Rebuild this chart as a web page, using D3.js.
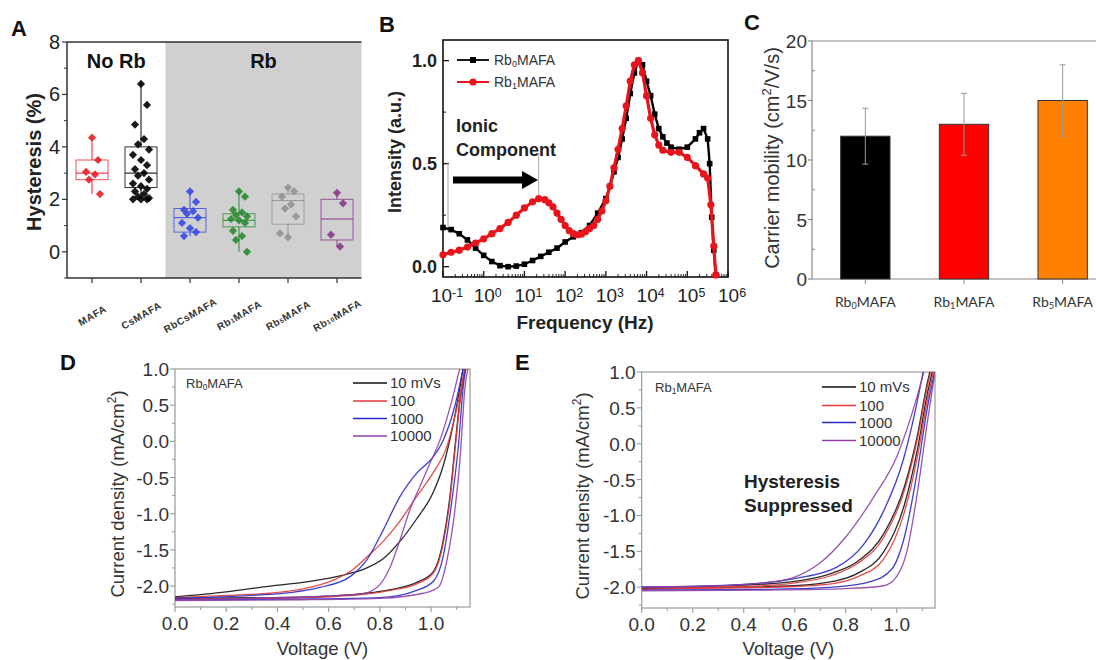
<!DOCTYPE html>
<html><head><meta charset="utf-8">
<script src="https://cdn.jsdelivr.net/npm/d3@7"></script>
<style>body{margin:0;background:#fff}svg{display:block}text{font-family:"Liberation Sans",Arial,sans-serif}</style>
</head><body><svg id="c" width="1096" height="660"></svg>
<script>
// ---------------- DATA ----------------
// Panel A: hysteresis (%)
const catsA = ["MAFA","CsMAFA","RbCsMAFA","Rb_{1}MAFA","Rb_{5}MAFA","Rb_{10}MAFA"];
const colorsA = ["#e8202a","#000000","#3a4be0","#2a8a32","#929292","#8a3a8a"];
const ptsMAFA = [4.35,3.5,3.05,2.95,2.75,2.2];
const ptsCsMAFA = [6.4,5.6,4.85,4.3,4.1,3.9,3.7,3.5,3.3,3.15,3.0,2.9,2.75,2.6,2.5,2.4,2.3,2.2,2.1,2.05,2.0,2.0,2.0];
const ptsRbCsMAFA = [2.3,1.9,1.6,1.55,1.45,1.3,1.1,0.9,0.75,0.6];
const ptsRb1MAFA = [2.3,2.1,1.6,1.5,1.4,1.35,1.25,1.2,1.1,0.8,0.6,0.45,0.0];
const ptsRb5MAFA = [2.45,2.3,2.1,1.8,1.65,1.35,0.7,0.55];
const ptsRb10MAFA = [2.25,1.85,0.65,0.2];
const boxQ1 = [2.75,2.45,0.75,0.95,1.05,0.45];
const boxMed = [3.0,3.0,1.3,1.2,1.95,1.25];
const boxQ3 = [3.5,4.0,1.65,1.45,2.2,2.0];
const ticksA = [0,2,4,6,8];

// Panel B: intensity vs frequency (exponent of 10 Hz)
const expRb0 = [-1,-0.8,-0.6,-0.4,-0.2,0,0.2,0.4,0.6,0.8,1,1.2,1.4,1.6,1.8,2,2.2,2.4,2.6,2.8,3,3.1,3.2,3.3,3.4,3.5,3.6,3.7,3.8,3.9,4,4.1,4.2,4.3,4.4,4.5,4.6,4.8,5,5.2,5.3,5.4,5.5,5.55,5.6,5.65,5.7];
const valRb0 = [0.19,0.18,0.16,0.13,0.09,0.055,0.025,0.005,0,0.003,0.012,0.03,0.05,0.07,0.09,0.12,0.145,0.165,0.2,0.26,0.33,0.39,0.46,0.53,0.62,0.72,0.84,0.94,1.0,0.98,0.9,0.83,0.74,0.67,0.63,0.6,0.58,0.57,0.58,0.62,0.65,0.67,0.62,0.5,0.24,0.08,-0.04];
const expRb1 = [-1,-0.8,-0.6,-0.4,-0.2,0,0.2,0.4,0.6,0.8,1,1.2,1.35,1.5,1.6,1.7,1.8,1.9,2,2.1,2.2,2.3,2.4,2.5,2.6,2.7,2.8,2.9,3,3.1,3.2,3.3,3.4,3.5,3.6,3.7,3.8,3.9,4,4.1,4.2,4.3,4.4,4.6,4.8,5,5.2,5.4,5.5,5.58,5.65,5.7];
const valRb1 = [0.058,0.07,0.08,0.095,0.115,0.135,0.16,0.185,0.215,0.25,0.285,0.315,0.33,0.325,0.31,0.29,0.26,0.23,0.2,0.175,0.16,0.155,0.158,0.17,0.185,0.2,0.23,0.27,0.32,0.39,0.48,0.57,0.67,0.78,0.9,0.98,1.0,0.94,0.83,0.72,0.64,0.59,0.565,0.555,0.555,0.53,0.49,0.45,0.43,0.3,0.1,-0.04];
const ticksBy = [0,0.5,1.0];
const ticksBxExp = [-1,0,1,2,3,4,5,6];

// Panel C: carrier mobility
const catsC = ["Rb_{0}MAFA","Rb_{1}MAFA","Rb_{5}MAFA"];
const valC = [12,13,15];
const errC = [2.35,2.6,3.0];
const colorsC = ["#000000","#ff0000","#ff8000"];
const ticksC = [0,5,10,15,20];

// Panel D: J-V, Rb0MAFA, pairs [V, J]
const D10a = [[0,-2.15],[0.2,-2.08],[0.37,-2.0],[0.5,-1.95],[0.63,-1.87],[0.749,-1.75],[0.814,-1.62],[0.879,-1.38],[0.944,-1.07],[1.009,-0.7],[1.048,-0.33],[1.087,0.25],[1.12,0.9],[1.127,1.05]];
const D10b = [[0,-2.17],[0.4,-2.16],[0.6,-2.14],[0.75,-2.1],[0.84,-2.05],[0.944,-1.95],[1.009,-1.8],[1.048,-1.36],[1.074,-0.75],[1.094,-0.05],[1.113,0.58],[1.135,1.05]];
const D100a = [[0,-2.16],[0.2,-2.13],[0.37,-2.1],[0.5,-2.04],[0.63,-1.9],[0.684,-1.8],[0.749,-1.6],[0.814,-1.38],[0.879,-1.1],[0.944,-0.76],[1.009,-0.43],[1.061,-0.08],[1.1,0.45],[1.135,1.05]];
const D100b = [[0,-2.18],[0.4,-2.17],[0.6,-2.15],[0.75,-2.11],[0.84,-2.06],[0.944,-1.97],[1.009,-1.82],[1.048,-1.4],[1.074,-0.8],[1.094,-0.1],[1.113,0.55],[1.137,1.05]];
const D1000a = [[0,-2.17],[0.3,-2.13],[0.45,-2.09],[0.566,-2.02],[0.684,-1.87],[0.749,-1.64],[0.814,-1.22],[0.879,-0.76],[0.944,-0.44],[1.009,-0.21],[1.048,0.02],[1.09,0.45],[1.128,1.05]];
const D1000b = [[0,-2.19],[0.5,-2.18],[0.8,-2.16],[0.944,-2.06],[1.01,-1.93],[1.048,-1.58],[1.08,-0.85],[1.107,-0.05],[1.126,0.77],[1.137,1.05]];
const D10000a = [[0,-2.19],[0.3,-2.17],[0.5,-2.15],[0.65,-2.13],[0.72,-2.11],[0.76,-2.08],[0.8,-1.98],[0.84,-1.74],[0.879,-1.36],[0.918,-0.94],[0.957,-0.62],[0.996,-0.3],[1.035,0.02],[1.08,0.55],[1.115,1.05]];
const D10000b = [[0,-2.2],[0.5,-2.19],[0.8,-2.17],[0.97,-2.1],[1.03,-2.01],[1.061,-1.66],[1.094,-0.92],[1.113,-0.25],[1.133,0.77],[1.147,1.05]];

// Panel E: J-V, Rb1MAFA
const E10a = [[0,-2.0],[0.4,-1.97],[0.6,-1.92],[0.75,-1.8],[0.85,-1.63],[0.95,-1.25],[1.03,-0.6],[1.08,0.1],[1.12,0.85],[1.133,1.05]];
const E10b = [[0,-2.02],[0.4,-2.0],[0.6,-1.98],[0.75,-1.92],[0.85,-1.8],[0.95,-1.5],[1.03,-0.85],[1.08,-0.1],[1.12,0.7],[1.143,1.05]];
const E100a = [[0,-2.01],[0.4,-1.99],[0.6,-1.94],[0.75,-1.83],[0.85,-1.66],[0.95,-1.3],[1.03,-0.65],[1.08,0.05],[1.12,0.8],[1.137,1.05]];
const E100b = [[0,-2.03],[0.4,-2.01],[0.6,-1.99],[0.75,-1.95],[0.85,-1.85],[0.95,-1.6],[1.03,-0.95],[1.08,-0.2],[1.12,0.6],[1.147,1.05]];
const E1000a = [[0,-2.0],[0.4,-1.96],[0.6,-1.88],[0.765,-1.72],[0.869,-1.41],[0.947,-0.95],[1.026,-0.22],[1.078,0.55],[1.106,1.05]];
const E1000b = [[0,-2.04],[0.5,-2.03],[0.75,-2.0],[0.9,-1.92],[0.98,-1.75],[1.03,-1.3],[1.08,-0.4],[1.12,0.5],[1.152,1.05]];
const E10000a = [[0,-2.0],[0.3,-1.98],[0.5,-1.93],[0.6,-1.86],[0.7,-1.66],[0.8,-1.3],[0.91,-0.74],[1.0,-0.18],[1.08,0.66],[1.11,1.05]];
const E10000b = [[0,-2.05],[0.5,-2.04],[0.8,-2.02],[0.95,-1.98],[1.0,-1.85],[1.04,-1.5],[1.08,-0.7],[1.12,0.3],[1.152,1.05]];

const rates = ["10 mVs","100","1000","10000"];
const rateColors = ["#111111","#e03a3a","#2a2ac8","#9040a8"];
const ticksJ = [-2.0,-1.5,-1.0,-0.5,0.0,0.5,1.0];
const ticksV = [0,0.2,0.4,0.6,0.8,1.0];

// ---------------- HELPERS ----------------
const svg = d3.select("#c");
svg.append("rect").attr("width",1096).attr("height",660).attr("fill","#fff");
function rich(t, s){
  const re=/([_^])\{([^}]*)\}/g; let last=0,m;
  while((m=re.exec(s))){
    if(m.index>last) t.append("tspan").text(s.slice(last,m.index));
    t.append("tspan").text(m[2]).attr("font-size","65%").attr("baseline-shift", m[1]==="_"?"-25%":"45%");
    last=re.lastIndex;
  }
  if(last<s.length) t.append("tspan").text(s.slice(last));
  return t;
}
function txt(x,y,s,o={}){
  const t=svg.append("text").attr("x",x).attr("y",y)
    .attr("font-size",o.size||18).attr("font-weight",o.bold?"bold":"normal")
    .attr("fill",o.fill||"#222").attr("text-anchor",o.anchor||"start");
  if(o.rotate!==undefined) t.attr("transform",`rotate(${o.rotate},${x},${y})`);
  if(o.baseline) t.attr("dominant-baseline",o.baseline);
  if(o.ls) t.attr("letter-spacing",o.ls);
  return rich(t,s);
}
function line(x1,y1,x2,y2,c,w){svg.append("line").attr("x1",x1).attr("y1",y1).attr("x2",x2).attr("y2",y2).attr("stroke",c).attr("stroke-width",w);}

// ---------------- PANEL A ----------------
{
  const xA=d3.scalePoint().domain(catsA).range([92,337]);
  const yA=d3.scaleLinear().domain([-1,8]).range([278,42]);
  const step=xA.step(), L=xA(catsA[0])-25, R=xA(catsA[5])+step/2;
  const gx=(xA(catsA[1])+xA(catsA[2]))/2;
  svg.append("rect").attr("x",gx).attr("y",yA(8)).attr("width",R-gx).attr("height",yA(-1)-yA(8)).attr("fill","#d0d0d0");
  line(L,yA(8),R,yA(8),"#333",1.5);
  line(L,yA(-1),R,yA(-1),"#333",1.5);
  line(L,yA(8),L,yA(-1),"#333",1.5);
  ticksA.forEach(v=>{line(L-5,yA(v),L,yA(v),"#333",1.2);
    txt(L-7,yA(v),String(v),{size:20,anchor:"end",baseline:"central",fill:"#222"});});
  [-1,1,3,5,7].forEach(v=>line(L-3,yA(v),L,yA(v),"#333",1));
  const allPts=[ptsMAFA,ptsCsMAFA,ptsRbCsMAFA,ptsRb1MAFA,ptsRb5MAFA,ptsRb10MAFA];
  const jit=[0,6,-6,3,-3,8,-8];
  catsA.forEach((c,i)=>{
    const cx=xA(c), col=colorsA[i], bw=32, pts=allPts[i];
    line(cx,yA(d3.max(pts)),cx,yA(boxQ3[i]),col,1);
    line(cx,yA(boxQ1[i]),cx,yA(d3.min(pts)),col,1);
    svg.append("rect").attr("x",cx-bw/2).attr("y",yA(boxQ3[i])).attr("width",bw).attr("height",yA(boxQ1[i])-yA(boxQ3[i]))
      .attr("fill","none").attr("stroke",col).attr("stroke-width",1).attr("stroke-opacity",0.8);
    line(cx-bw/2,yA(boxMed[i]),cx+bw/2,yA(boxMed[i]),col,1);
    pts.forEach((v,j)=>{
      svg.append("path").attr("d",d3.symbol(d3.symbolSquare,34)())
        .attr("transform",`translate(${cx+jit[j%7]},${yA(v)}) rotate(45)`).attr("fill",col).attr("fill-opacity",0.9);
    });
    line(cx,yA(-1),cx,yA(-1)+5,"#333",1.2);
    txt(cx,315,c,{size:10,bold:true,anchor:"middle",baseline:"central",rotate:-30,ls:"0.6px",fill:"#333"});
  });
  txt((L+gx)/2,68,"No Rb",{size:20,bold:true,anchor:"middle",fill:"#111"});
  txt((gx+R)/2,68,"Rb",{size:20,bold:true,anchor:"middle",fill:"#111"});
  txt(34,(yA(8)+yA(-1))/2+2,"Hysteresis (%)",{size:20,bold:true,anchor:"middle",baseline:"central",rotate:-90,fill:"#222"});
  txt(11,36,"A",{size:22,bold:true,fill:"#111"});
}

// ---------------- PANEL B ----------------
{
  const xB=d3.scaleLog().domain([0.1,1e6]).range([443,728]);
  const yB=d3.scaleLinear().domain([-0.05,1.1]).range([277,40]);
  svg.append("rect").attr("x",443).attr("y",40).attr("width",285).attr("height",237).attr("fill","none").attr("stroke","#111").attr("stroke-width",1.6);
  ticksBy.forEach(v=>{line(443,yB(v),449,yB(v),"#111",1.3);
    txt(437,yB(v),v.toFixed(1),{size:18,bold:true,anchor:"end",baseline:"central",fill:"#222"});});
  [0.25,0.75].forEach(v=>line(443,yB(v),446,yB(v),"#111",1));
  ticksBxExp.forEach(e=>{const x=xB(10**e);line(x,277,x,271,"#111",1.3);
    txt(x+4,302,"10^{"+e+"}",{size:19,anchor:"middle",fill:"#222"});});
  for(let e=-1;e<6;e++) for(let k=2;k<10;k++){const x=xB(k*10**e);line(x,277,x,274,"#111",0.9);}
  // guide lines
  line(448,162,448,yB(0.17),"#aaa",1);
  line(xB(10**1.35),153,xB(10**1.35),yB(0.33),"#aaa",1);
  const d0=expRb0.map((e,i)=>[10**e,valRb0[i]]), d1=expRb1.map((e,i)=>[10**e,valRb1[i]]);
  const ln=d3.line().x(d=>xB(d[0])).y(d=>yB(d[1]));
  svg.append("path").attr("d",ln(d0)).attr("fill","none").attr("stroke","#000").attr("stroke-width",2.4);
  d0.forEach(d=>svg.append("rect").attr("x",xB(d[0])-2.8).attr("y",yB(d[1])-2.8).attr("width",5.6).attr("height",5.6).attr("fill","#000"));
  svg.append("path").attr("d",ln(d1)).attr("fill","none").attr("stroke","#e8141c").attr("stroke-width",3.2);
  d1.forEach(d=>svg.append("circle").attr("cx",xB(d[0])).attr("cy",yB(d[1])).attr("r",3.6).attr("fill","#e8141c"));
  // legend
  line(457,60,489,60,"#000",1.8);svg.append("rect").attr("x",470).attr("y",57).attr("width",6).attr("height",6).attr("fill","#000");
  txt(494,65,"Rb_{0}MAFA",{size:14,fill:"#333"});
  line(457,82,489,82,"#e8141c",2);svg.append("circle").attr("cx",473).attr("cy",82).attr("r",3.6).attr("fill","#e8141c");
  txt(494,87,"Rb_{1}MAFA",{size:14,fill:"#333"});
  txt(456,132,"Ionic",{size:18,bold:true,fill:"#222"});
  txt(456,156,"Component",{size:18,bold:true,fill:"#222"});
  svg.append("path").attr("d","M453,176.5 L522,176.5 L522,171 L538,180 L522,189 L522,183.5 L453,183.5 Z").attr("fill","#000");
  txt(585,329,"Frequency (Hz)",{size:19,bold:true,anchor:"middle",fill:"#222"});
  txt(395,152,"Intensity (a.u.)",{size:18,bold:true,anchor:"middle",baseline:"central",rotate:-90,fill:"#222"});
  txt(379,32,"B",{size:22,bold:true,fill:"#111"});
}

// ---------------- PANEL C ----------------
{
  const xC=d3.scaleBand().domain(catsC).range([816,1112]).paddingInner(0.5).paddingOuter(0.25);
  const yC=d3.scaleLinear().domain([0,20]).range([279,41]);
  line(812,41,1096,41,"#888",1.2);
  line(812,279,1096,279,"#888",1.2);
  line(812,41,812,279,"#888",1.2);
  ticksC.forEach(v=>{line(808,yC(v),812,yC(v),"#888",1.2);
    txt(807,yC(v),String(v),{size:19,anchor:"end",baseline:"central",fill:"#333"});});
  [2.5,7.5,12.5,17.5].forEach(v=>line(812,yC(v),815,yC(v),"#888",1));
  catsC.forEach((c,i)=>{
    const x=xC(c),w=xC.bandwidth(),cx=x+w/2;
    svg.append("rect").attr("x",x).attr("y",yC(valC[i])).attr("width",w).attr("height",yC(0)-yC(valC[i]))
      .attr("fill",colorsC[i]).attr("stroke","#333").attr("stroke-width",1);
    line(cx,yC(valC[i]+errC[i]),cx,yC(valC[i]-errC[i]),"#999",1);
    line(cx-3,yC(valC[i]+errC[i]),cx+3,yC(valC[i]+errC[i]),"#999",1);
    line(cx-3,yC(valC[i]-errC[i]),cx+3,yC(valC[i]-errC[i]),"#999",1);
    line(cx,279,cx,284,"#888",1);
    txt(cx,307,c,{size:14,anchor:"middle",fill:"#333"}).style("font-family","Lato, 'Open Sans', sans-serif");
  });
  txt(772,158,"Carrier mobility (cm^{2}/V/s)",{size:20,anchor:"middle",baseline:"central",rotate:-90,fill:"#333"});
  txt(744,30,"C",{size:22,bold:true,fill:"#111"});
}

// ---------------- PANELS D & E ----------------
function jvPanel(o){
  const x=d3.scaleLinear().domain([0,o.vmax]).range([o.x0,o.x1]);
  const y=d3.scaleLinear().domain([-2.29,1.0]).range([o.y1,o.y0]);
  const id="clip"+o.name;
  svg.append("clipPath").attr("id",id).append("rect").attr("x",o.x0).attr("y",o.y0).attr("width",o.x1-o.x0).attr("height",o.y1-o.y0);
  svg.append("rect").attr("x",o.x0).attr("y",o.y0).attr("width",o.x1-o.x0).attr("height",o.y1-o.y0).attr("fill","none").attr("stroke","#999").attr("stroke-width",1.2);
  ticksJ.forEach(v=>{line(o.x0-5,y(v),o.x0,y(v),"#999",1.1);
    txt(o.x0-6,y(v),v.toFixed(1),{size:19,anchor:"end",baseline:"central",fill:"#333"});});
  [-2.25,-1.75,-1.25,-0.75,-0.25,0.25,0.75].forEach(v=>line(o.x0-3,y(v),o.x0,y(v),"#999",1));
  ticksV.forEach(v=>{line(x(v),o.y1,x(v),o.y1+5,"#999",1.1);
    txt(x(v),o.y1+23,v.toFixed(1),{size:19,anchor:"middle",fill:"#333"});});
  [0.1,0.3,0.5,0.7,0.9,1.1].forEach(v=>line(x(v),o.y1,x(v),o.y1+3,"#999",1));
  const ln=d3.line().x(d=>x(d[0])).y(d=>y(d[1])).curve(d3.curveMonotoneX);
  const g=svg.append("g").attr("clip-path",`url(#${id})`);
  o.curves.forEach((pair,i)=>pair.forEach(c=>g.append("path").attr("d",ln(c)).attr("fill","none").attr("stroke",rateColors[i]).attr("stroke-width",1.3).attr("stroke-opacity",0.9)));
  rates.forEach((r,i)=>{const ly=o.legY[i];line(o.legX,ly,o.legX+34,ly,rateColors[i],1.5);
    txt(o.legX+37,ly+5,r,{size:15,fill:"#333"});});
  txt(o.tagX,o.tagY,o.tag,{size:13,fill:"#333"});
  txt((o.x0+o.x1)/2,655,"Voltage (V)",{size:18.5,anchor:"middle",fill:"#333"});
  txt(o.ylabX,(o.y0+o.y1)/2+6,"Current density (mA/cm^{2})",{size:18.5,anchor:"middle",baseline:"central",rotate:-90,fill:"#333"});
  txt(o.letX,370,o.name,{size:22,bold:true,fill:"#111"});
}
jvPanel({name:"D",x0:175,x1:470,y0:369,y1:607,vmax:1.152,
  curves:[[D10a,D10b],[D100a,D100b],[D1000a,D1000b],[D10000a,D10000b]],
  legX:353,legY:[383,401,418.5,436],tag:"Rb_{0}MAFA",tagX:186,tagY:388,ylabX:117,letX:60});
jvPanel({name:"E",x0:641.7,x1:935,y0:372,y1:608,vmax:1.15,
  curves:[[E10a,E10b],[E100a,E100b],[E1000a,E1000b],[E10000a,E10000b]],
  legX:822,legY:[387,405.5,422.5,440.5],tag:"Rb_{1}MAFA",tagX:655,tagY:392,ylabX:582,letX:515});
txt(744,488,"Hysteresis",{size:19,bold:true,fill:"#222"});
txt(744,512,"Suppressed",{size:19,bold:true,fill:"#222"});
</script></body></html>
